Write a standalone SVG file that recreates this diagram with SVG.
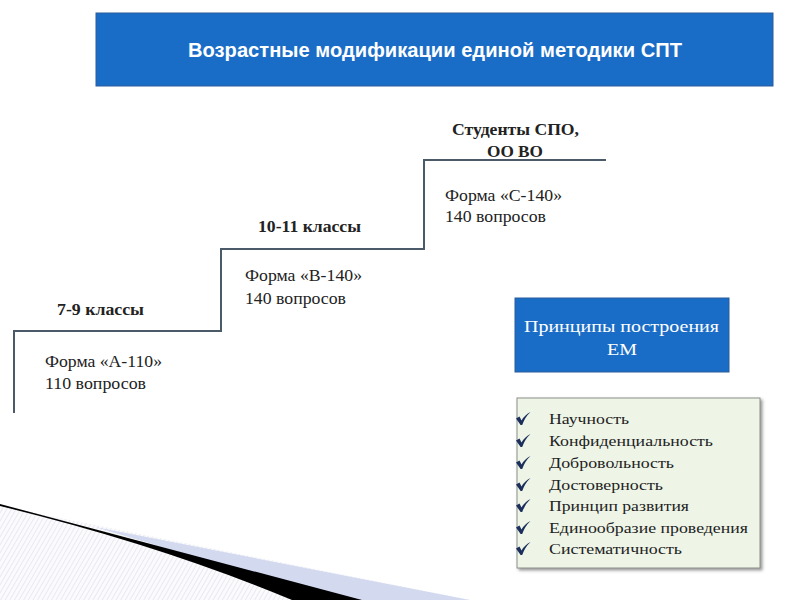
<svg xmlns="http://www.w3.org/2000/svg" width="800" height="600" viewBox="0 0 800 600">
<defs>
<style>
.t{font-family:"Liberation Serif","DejaVu Serif",serif;fill:#222;font-size:16px}
.b{font-weight:bold}
.w{fill:#fff;font-size:17.5px}
.li{font-size:15.5px}
.step{fill:none;stroke:#4b5a68;stroke-width:2}
.blue{fill:#1a6dc6;stroke:#2a5d9a;stroke-width:1}
</style>
<pattern id="hatch" width="4" height="4" patternUnits="userSpaceOnUse" patternTransform="rotate(30)">
<rect width="4" height="4" fill="#fbfbfd"/>
<line x1="0" y1="0" x2="0" y2="4" stroke="#d6d9e2" stroke-width="1"/>
</pattern>
<filter id="sh" x="-10%" y="-10%" width="120%" height="120%">
<feDropShadow dx="2" dy="2" stdDeviation="1.5" flood-color="#555" flood-opacity="0.6"/>
</filter>
<path id="chk" d="M0,6.5 L3.5,4.5 L5.5,8.5 Q9,2.5 14.5,0 Q9,5 6.2,13 L4.6,13 Z" fill="#1c2f5c"/>
</defs>
<rect width="800" height="600" fill="#fff"/>

<g id="decor">
<path d="M0,506 L470,600 L0,600 Z" fill="url(#hatch)"/>
<path d="M95,527 L470,600 L340,600 Z" fill="#d3d9ef"/>
<path d="M0,504 L362,600 L292,600 Q160,545 0,506 Z" fill="#000"/>
</g>

<g id="title">
<rect x="96" y="13" width="677" height="73" class="blue"/>
<text x="435" y="57" text-anchor="middle" font-family="Liberation Sans,Arial,sans-serif" font-weight="bold" font-size="20" fill="#fff" textLength="494" lengthAdjust="spacingAndGlyphs">Возрастные модификации единой методики СПТ</text>
</g>

<g id="connectors">
<path class="step" d="M14,413 V331 H221 V249 H424 V160 H606"/>
</g>

<g id="step1">
<text class="t b" x="57" y="315" textLength="87" lengthAdjust="spacingAndGlyphs">7-9 классы</text>
<text class="t" x="45" y="367" textLength="117" lengthAdjust="spacingAndGlyphs">Форма «А-110»</text>
<text class="t" x="45" y="389" textLength="101" lengthAdjust="spacingAndGlyphs">110 вопросов</text>
</g>
<g id="step2">
<text class="t b" x="258" y="232" textLength="103" lengthAdjust="spacingAndGlyphs">10-11 классы</text>
<text class="t" x="245" y="281" textLength="117" lengthAdjust="spacingAndGlyphs">Форма «В-140»</text>
<text class="t" x="245" y="304" textLength="101" lengthAdjust="spacingAndGlyphs">140 вопросов</text>
</g>
<g id="step3">
<text class="t b" x="452" y="135" textLength="127" lengthAdjust="spacingAndGlyphs">Студенты СПО,</text>
<text class="t b" x="487" y="157" textLength="56" lengthAdjust="spacingAndGlyphs">ОО ВО</text>
<text class="t" x="445" y="201" textLength="117" lengthAdjust="spacingAndGlyphs">Форма «С-140»</text>
<text class="t" x="445" y="222" textLength="101" lengthAdjust="spacingAndGlyphs">140 вопросов</text>
</g>

<g id="principles">
<rect x="515" y="298" width="214" height="74" class="blue"/>
<text class="t w" x="524" y="332" textLength="195" lengthAdjust="spacingAndGlyphs">Принципы построения</text>
<text class="t w" x="607" y="355" textLength="30" lengthAdjust="spacingAndGlyphs">ЕМ</text>
</g>

<g id="list">
<rect x="517" y="398" width="243" height="170" fill="#eef5e7" stroke="#8a8f88" stroke-width="1" filter="url(#sh)"/>
<use href="#chk" x="516" y="412"/>
<use href="#chk" x="516" y="434"/>
<use href="#chk" x="516" y="456"/>
<use href="#chk" x="516" y="478"/>
<use href="#chk" x="516" y="499"/>
<use href="#chk" x="516" y="521"/>
<use href="#chk" x="516" y="542"/>
<text class="t li" x="549" y="424" textLength="80" lengthAdjust="spacingAndGlyphs">Научность</text>
<text class="t li" x="549" y="446" textLength="164" lengthAdjust="spacingAndGlyphs">Конфиденциальность</text>
<text class="t li" x="549" y="468" textLength="125" lengthAdjust="spacingAndGlyphs">Добровольность</text>
<text class="t li" x="549" y="490" textLength="114" lengthAdjust="spacingAndGlyphs">Достоверность</text>
<text class="t li" x="549" y="511" textLength="140" lengthAdjust="spacingAndGlyphs">Принцип развития</text>
<text class="t li" x="549" y="533" textLength="199" lengthAdjust="spacingAndGlyphs">Единообразие проведения</text>
<text class="t li" x="549" y="554" textLength="133" lengthAdjust="spacingAndGlyphs">Систематичность</text>
</g>
</svg>
